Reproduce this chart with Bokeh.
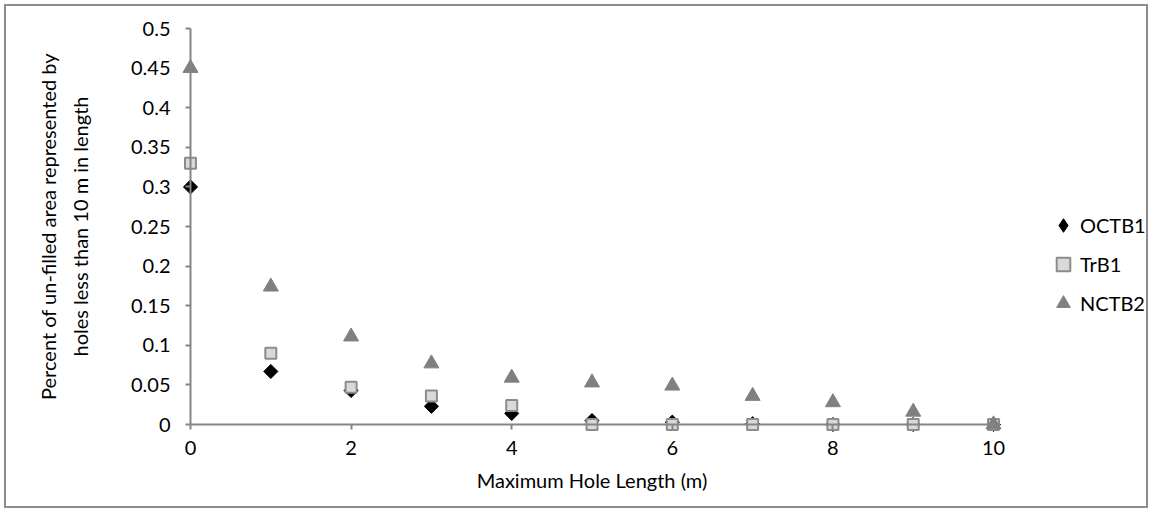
import math

from bokeh.embed import file_html
from bokeh.models import FixedTicker, Legend, LegendItem, NumeralTickFormatter, Range1d
from bokeh.plotting import figure
from bokeh.resources import INLINE

# Maximum hole length (m) and the share of un-filled area for each site
hole_length = [0, 1, 2, 3, 4, 5, 6, 7, 8, 9, 10]
octb1 = [0.30, 0.067, 0.043, 0.023, 0.014, 0.005, 0.003, 0.001, 0.0, 0.0, 0.0]
trb1 = [0.33, 0.090, 0.047, 0.036, 0.024, 0.0, 0.0, 0.0, 0.0, 0.0, 0.0]
nctb2 = [0.45, 0.174, 0.111, 0.077, 0.059, 0.053, 0.049, 0.036, 0.028, 0.016, 0.0]

series_names = ["OCTB1", "TrB1", "NCTB2"]

x_ticks = [0, 2, 4, 6, 8, 10]
y_ticks = [0, 0.05, 0.1, 0.15, 0.2, 0.25, 0.3, 0.35, 0.4, 0.45, 0.5]
y_tick_labels = ["0", "0.05", "0.1", "0.15", "0.2", "0.25", "0.3", "0.35", "0.4", "0.45", "0.5"]

FONT = "Lato"
FONT_SIZE = "20px"
AXIS_GREY = "#868686"

# The frame spans the whole canvas; the axes are pinned at the data origin
# and the ranges are padded so that labels and legend sit inside the frame.
p = figure(
    frame_width=1140,
    frame_height=500,
    min_border=0,
    x_range=Range1d(-2.2914, 11.905),
    y_range=Range1d(-0.1035, 0.5278),
    output_backend="svg",
    toolbar_location=None,
    tools="",
)
p.styles = {"margin": "4px 0 0 4px", "border": "2px solid #8c8c8c"}
p.outline_line_color = None
p.grid.visible = False
p.background_fill_color = "white"
p.border_fill_color = "white"

xa = p.xaxis[0]
xa.fixed_location = 0
xa.bounds = (0, 10)
xa.ticker = FixedTicker(ticks=x_ticks)
xa.axis_label = "Maximum Hole Length (m)"

ya = p.yaxis[0]
ya.fixed_location = 0
ya.bounds = (0, 0.5)
ya.ticker = FixedTicker(ticks=y_ticks)
ya.formatter = NumeralTickFormatter(format="0.[00]")
ya.major_label_overrides = {t: s for t, s in zip(y_ticks, y_tick_labels)}
ya.axis_label = "Percent of un-filled area represented by\nholes less than 10 m in length"
ya.axis_label_text_line_height = 1.35

for ax in (xa, ya):
    ax.axis_line_color = AXIS_GREY
    ax.axis_line_width = 2
    ax.major_tick_line_color = AXIS_GREY
    ax.major_tick_line_width = 2
    ax.major_tick_in = 0
    ax.major_tick_out = 5
    ax.minor_tick_line_color = None
    ax.major_label_text_font = FONT
    ax.major_label_text_font_size = FONT_SIZE
    ax.major_label_text_color = "black"
    ax.axis_label_text_font = FONT
    ax.axis_label_text_font_size = FONT_SIZE
    ax.axis_label_text_font_style = "normal"
    ax.axis_label_text_color = "black"

xa.major_label_standoff = 11
xa.axis_label_standoff = 10
ya.major_label_standoff = 15
ya.axis_label_standoff = 36

# Upright diamond used as the legend swatch; it sits under the rotated squares
key_oct = p.scatter(hole_length, octb1, marker="diamond", size=10,
                    fill_color="black", line_color="black", line_width=1)
r_oct = p.scatter(hole_length, octb1, marker="square", angle=math.pi / 4, size=10,
                  fill_color="black", line_color="black", line_width=1)
r_trb = p.scatter(hole_length, trb1, marker="square", size=11,
                  fill_color="#d9d9d9", line_color="#8c8c8c", line_width=2)
r_nct = p.scatter(hole_length, nctb2, marker="triangle", size=15,
                  fill_color="#808080", line_color="#808080", line_width=1)

legend = Legend(
    items=[LegendItem(label=n, renderers=[r]) for n, r in zip(series_names, [key_oct, r_trb, r_nct])],
    location=(1040, 186),
    orientation="vertical",
    glyph_width=34,
    glyph_height=34,
    label_height=34,
    spacing=5,
    padding=0,
    margin=0,
    label_standoff=-5,
    border_line_color=None,
    background_fill_alpha=0,
    label_text_font=FONT,
    label_text_font_size=FONT_SIZE,
    label_text_color="black",
)
p.add_layout(legend, "center")

open("out.html", "w").write(file_html(p, INLINE))
